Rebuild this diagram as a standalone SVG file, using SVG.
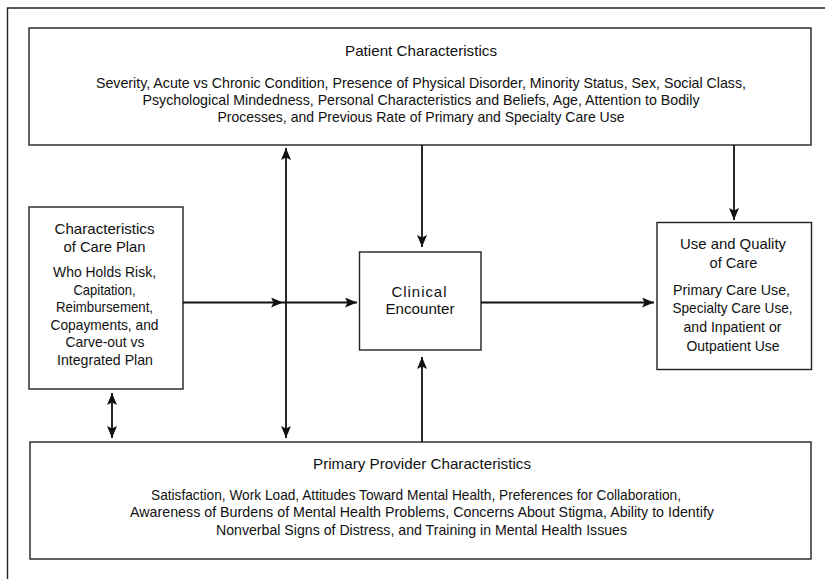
<svg xmlns="http://www.w3.org/2000/svg" width="825" height="579" viewBox="0 0 825 579">
<defs>
<marker id="ah" viewBox="0 0 12 10" refX="12" refY="5" markerWidth="12" markerHeight="10" markerUnits="userSpaceOnUse" orient="auto-start-reverse">
<path d="M0,0 L12,5 L0,10 L2.5,5 Z" fill="#111"/>
</marker>
</defs>
<style>
.box{fill:#fff;stroke:#222;stroke-width:1.4}
.frame{fill:none;stroke:#222;stroke-width:1.4}
.con{fill:none;stroke:#111;stroke-width:1.8}
text{font-family:"Liberation Sans",Arial,sans-serif;font-size:15px;fill:#111;text-anchor:middle}
.b{font-size:14.5px}
</style>
<rect width="825" height="579" fill="#fff"/>
<path class="frame" d="M825,8 H7.5 V579"/>
<g id="patient">
<rect class="box" x="29" y="28" width="782" height="117"/>
<text x="421" y="56" textLength="152" lengthAdjust="spacingAndGlyphs">Patient Characteristics</text>
<text class="b" x="421" y="88" textLength="650" lengthAdjust="spacingAndGlyphs">Severity, Acute vs Chronic Condition, Presence of Physical Disorder, Minority Status, Sex, Social Class,</text>
<text class="b" x="421" y="105" textLength="557" lengthAdjust="spacingAndGlyphs">Psychological Mindedness, Personal Characteristics and Beliefs, Age, Attention to Bodily</text>
<text class="b" x="421" y="122" textLength="407" lengthAdjust="spacingAndGlyphs">Processes, and Previous Rate of Primary and Specialty Care Use</text>
</g>
<g id="careplan">
<rect class="box" x="29" y="207" width="154" height="182"/>
<text x="104.5" y="234" textLength="100" lengthAdjust="spacingAndGlyphs">Characteristics</text>
<text x="104.5" y="252" textLength="82" lengthAdjust="spacingAndGlyphs">of Care Plan</text>
<text x="104.5" y="277" textLength="103" lengthAdjust="spacingAndGlyphs">Who Holds Risk,</text>
<text x="104.5" y="295" textLength="62" lengthAdjust="spacingAndGlyphs">Capitation,</text>
<text x="104.5" y="312" textLength="97" lengthAdjust="spacingAndGlyphs">Reimbursement,</text>
<text x="104.5" y="330" textLength="108" lengthAdjust="spacingAndGlyphs">Copayments, and</text>
<text x="105" y="347" textLength="79" lengthAdjust="spacingAndGlyphs">Carve-out vs</text>
<text x="105" y="365" textLength="96" lengthAdjust="spacingAndGlyphs">Integrated Plan</text>
</g>
<g id="clinical">
<rect class="box" x="359.5" y="252" width="121.5" height="98"/>
<text x="419" y="297" textLength="55" lengthAdjust="spacing">Clinical</text>
<text x="420" y="314" textLength="69" lengthAdjust="spacingAndGlyphs">Encounter</text>
</g>
<g id="usequality">
<rect class="box" x="657" y="222.5" width="154.5" height="147"/>
<text x="733" y="249" textLength="106" lengthAdjust="spacingAndGlyphs">Use and Quality</text>
<text x="733.5" y="268" textLength="48" lengthAdjust="spacingAndGlyphs">of Care</text>
<text x="731.5" y="295" textLength="117" lengthAdjust="spacingAndGlyphs">Primary Care Use,</text>
<text x="732.5" y="313" textLength="120" lengthAdjust="spacingAndGlyphs">Specialty Care Use,</text>
<text x="732.5" y="332" textLength="98" lengthAdjust="spacingAndGlyphs">and Inpatient or</text>
<text x="733" y="351" textLength="93" lengthAdjust="spacingAndGlyphs">Outpatient Use</text>
</g>
<g id="provider">
<rect class="box" x="30" y="442" width="781" height="117"/>
<text x="422" y="469" textLength="218" lengthAdjust="spacingAndGlyphs">Primary Provider Characteristics</text>
<text class="b" x="416" y="500" textLength="530" lengthAdjust="spacingAndGlyphs">Satisfaction, Work Load, Attitudes Toward Mental Health, Preferences for Collaboration,</text>
<text class="b" x="422" y="517" textLength="584" lengthAdjust="spacingAndGlyphs">Awareness of Burdens of Mental Health Problems, Concerns About Stigma, Ability to Identify</text>
<text class="b" x="421.5" y="535" textLength="411" lengthAdjust="spacingAndGlyphs">Nonverbal Signs of Distress, and Training in Mental Health Issues</text>
</g>
<g id="connectors">
<line class="con" x1="286" y1="148" x2="286" y2="438" marker-start="url(#ah)" marker-end="url(#ah)"/>
<line class="con" x1="422" y1="145" x2="422" y2="247" marker-end="url(#ah)"/>
<line class="con" x1="734" y1="145" x2="734" y2="220" marker-end="url(#ah)"/>
<line class="con" x1="183" y1="302.5" x2="283" y2="302.5" marker-end="url(#ah)"/>
<line class="con" x1="283" y1="302.5" x2="357" y2="302.5" marker-end="url(#ah)"/>
<line class="con" x1="481" y1="302.5" x2="654" y2="302.5" marker-end="url(#ah)"/>
<line class="con" x1="422" y1="442" x2="422" y2="357" marker-end="url(#ah)"/>
<line class="con" x1="112" y1="393" x2="112" y2="438" marker-start="url(#ah)" marker-end="url(#ah)"/>
</g>
</svg>
